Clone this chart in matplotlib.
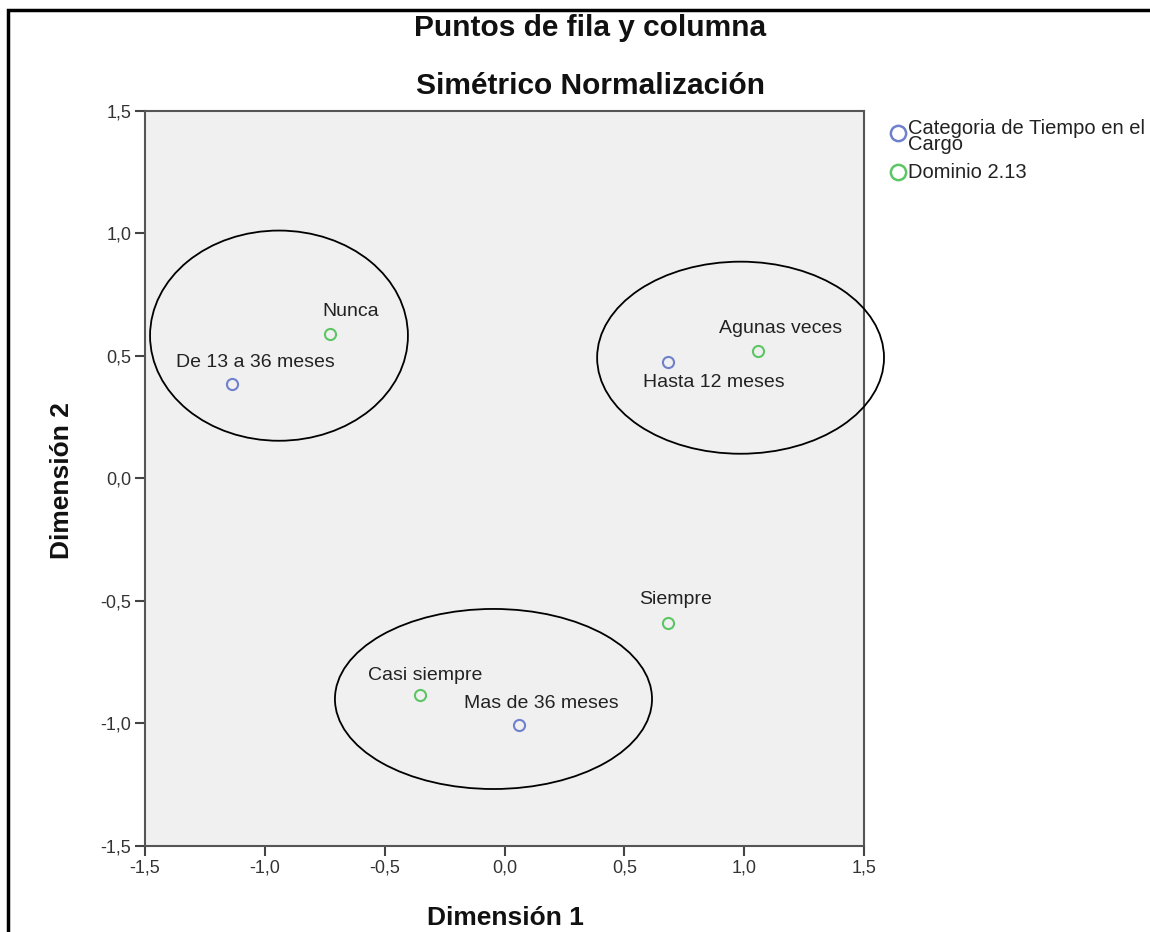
import matplotlib
matplotlib.use("Agg")
import matplotlib.pyplot as plt
from matplotlib.patches import Ellipse, Rectangle
from matplotlib.lines import Line2D
from matplotlib.ticker import FuncFormatter

plt.rcParams["font.family"] = ["Liberation Sans", "DejaVu Sans"]

# Row points (Categoria de Tiempo en el Cargo)
row_labels = ["De 13 a 36 meses", "Hasta 12 meses", "Mas de 36 meses"]
row_x = [-1.137, 0.681, 0.062]
row_y = [0.387, 0.477, -1.007]

# Column points (Dominio 2.13)
col_labels = ["Nunca", "Agunas veces", "Siempre", "Casi siempre"]
col_x = [-0.728, 1.056, 0.681, -0.353]
col_y = [0.590, 0.522, -0.588, -0.885]

# hand-drawn grouping ellipses: center x, center y, width, height
ell_cx = [-0.941, 0.985, -0.046]
ell_cy = [0.583, 0.493, -0.900]
ell_w = [1.076, 1.197, 1.323]
ell_h = [0.858, 0.784, 0.735]

ticks = [-1.5, -1.0, -0.5, 0.0, 0.5, 1.0, 1.5]
legend_labels = ["Categoria de Tiempo en el\nCargo", "Dominio 2.13"]

blue = "#6f80cc"
green = "#5cc664"

W, H = 1150, 932
fig = plt.figure(figsize=(W / 100, H / 100), dpi=100)
ax = fig.add_axes([0.1261, 0.0923, 0.6252, 0.7886])
ax.set_facecolor("#f0f0f0")

# label offsets in pixels (dx, dy), converted to points
row_off = [(23, 21), (46, -21), (22, 22)]
col_off = [(21, 22), (23, 22), (8, 23), (5, 20)]
px = 72 / 100

ax.plot(row_x, row_y, "o", ms=8, mfc="none", mec=blue, mew=1.5, zorder=3)
ax.plot(col_x, col_y, "o", ms=8, mfc="none", mec=green, mew=1.5, zorder=3)

for lab, x, y, (dx, dy) in zip(row_labels, row_x, row_y, row_off):
    ax.annotate(lab, (x, y), xytext=(dx * px, dy * px), textcoords="offset points",
                ha="center", va="center", fontsize=14, color="#222222")
for lab, x, y, (dx, dy) in zip(col_labels, col_x, col_y, col_off):
    ax.annotate(lab, (x, y), xytext=(dx * px, dy * px), textcoords="offset points",
                ha="center", va="center", fontsize=14, color="#222222")

for cx, cy, w, h in zip(ell_cx, ell_cy, ell_w, ell_h):
    ax.add_patch(Ellipse((cx, cy), w, h, fill=False, ec="black", lw=1.3,
                         clip_on=False, zorder=4))

ax.set_xlim(-1.5, 1.5)
ax.set_ylim(-1.5, 1.5)
ax.set_xticks(ticks)
ax.set_yticks(ticks)
fmt = FuncFormatter(lambda v, p: f"{v:.1f}".replace(".", ","))
ax.xaxis.set_major_formatter(fmt)
ax.yaxis.set_major_formatter(fmt)
ax.tick_params(direction="out", length=7, width=1.5, colors="#444444",
               labelsize=13, labelcolor="#333333", pad=3)
for s in ax.spines.values():
    s.set_color("#555555")
    s.set_linewidth(1.5)

fig.text(505 / W, 1 - 918 / H, "Dimensión 1", ha="center", va="center",
         fontsize=19, fontweight="bold", color="#111111")
fig.text(62 / W, 1 - 481 / H, "Dimensión 2", ha="center", va="center",
         rotation=90, fontsize=19, fontweight="bold", color="#111111")

fig.text(590 / W, 1 - 28 / H, "Puntos de fila y columna", ha="center", va="center",
         fontsize=21.5, fontweight="bold", color="#111111")
fig.text(590 / W, 1 - 86 / H, "Simétrico Normalización", ha="center", va="center",
         fontsize=21.5, fontweight="bold", color="#111111")

# legend drawn by hand to match the SPSS layout
fig.add_artist(Line2D([898 / W], [1 - 133 / H], marker="o", ms=11, mfc="none",
                      mec=blue, mew=1.8, transform=fig.transFigure))
fig.add_artist(Line2D([898 / W], [1 - 172 / H], marker="o", ms=11, mfc="none",
                      mec=green, mew=1.8, transform=fig.transFigure))
fig.text(908 / W, 1 - 119 / H, legend_labels[0], ha="left", va="top",
         fontsize=14.5, color="#222222", linespacing=0.8)
fig.text(908 / W, 1 - 172 / H, legend_labels[1], ha="left", va="center",
         fontsize=14.5, color="#222222")

# outer frame of the screenshot
fig.add_artist(Rectangle((8 / W, -0.1), 1.2, 1.1 - 10 / H,
                         transform=fig.transFigure, fill=False, ec="black", lw=2.5))

fig.savefig("out.png", dpi=100)
